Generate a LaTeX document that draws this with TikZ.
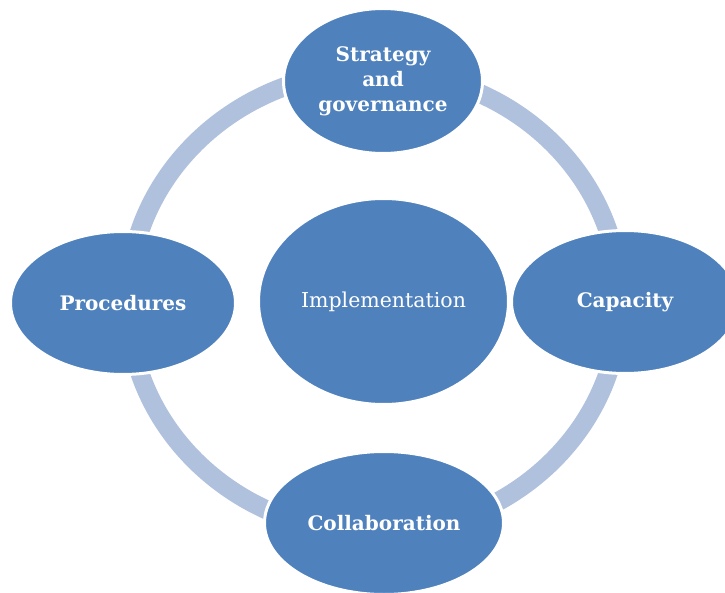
\documentclass[tikz,border=0pt]{standalone}
\usepackage{fontspec}
\setmainfont{DejaVu Serif}
\usetikzlibrary{shapes.geometric}
\definecolor{petal}{HTML}{4F81BD}
\definecolor{ringblue}{HTML}{B0C1DE}
\begin{document}
\begin{tikzpicture}[x=1pt,y=-1pt,
  petalnode/.style={ellipse, fill=petal, draw=white, line width=3pt,
    inner sep=0pt, outer sep=0pt, text=white, align=center,
    font=\bfseries\fontsize{20}{25}\selectfont},
  hubnode/.style={petalnode, font=\fontsize{20.5}{25}\selectfont},
  ringline/.style={draw=ringblue, line width=19pt}]
\useasboundingbox (0,0) rectangle (725,593);
% the cycle ring, drawn first so the ellipses sit on top of it
\coordinate (hub) at (374,302);
\draw[ringline] (hub) ellipse [x radius=246pt, y radius=231pt];
% central ellipse
\node[hubnode, minimum width=250pt, minimum height=206pt] (impl) at (383.5,301.5) {Implementation};
% the four ellipses on the ring
\node[petalnode, minimum width=199pt, minimum height=145pt] (strategy) at (383,81) {Strategy\\and\\governance};
\node[petalnode, minimum width=225pt, minimum height=143pt] (proc) at (123,303) {Procedures};
\node[petalnode, minimum width=227pt, minimum height=143pt] (cap) at (625,302) {Capacity};
\node[petalnode, minimum width=239pt, minimum height=143pt] (collab) at (384,523) {Collaboration};
\end{tikzpicture}
\end{document}
